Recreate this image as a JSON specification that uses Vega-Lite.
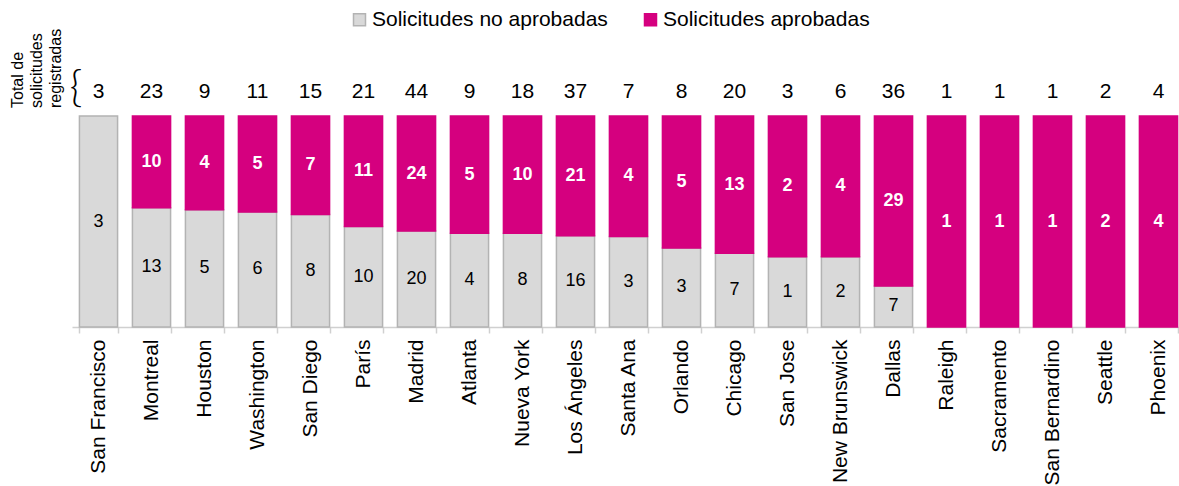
{
  "$schema": "https://vega.github.io/schema/vega-lite/v6.json",
  "width": 1107,
  "height": 211,
  "autosize": {"type": "none"},
  "padding": {"left": 72, "top": 116, "right": 0, "bottom": 159},
  "config": {
    "view": {"stroke": null},
    "font": "Liberation Sans",
    "text": {"font": "Liberation Sans"}
  },
  "data": {
    "values": [
      {"ciudad": "San Francisco", "estado": "Solicitudes no aprobadas", "n": 3},
      {"ciudad": "Montreal", "estado": "Solicitudes no aprobadas", "n": 13},
      {"ciudad": "Montreal", "estado": "Solicitudes aprobadas", "n": 10},
      {"ciudad": "Houston", "estado": "Solicitudes no aprobadas", "n": 5},
      {"ciudad": "Houston", "estado": "Solicitudes aprobadas", "n": 4},
      {"ciudad": "Washington", "estado": "Solicitudes no aprobadas", "n": 6},
      {"ciudad": "Washington", "estado": "Solicitudes aprobadas", "n": 5},
      {"ciudad": "San Diego", "estado": "Solicitudes no aprobadas", "n": 8},
      {"ciudad": "San Diego", "estado": "Solicitudes aprobadas", "n": 7},
      {"ciudad": "París", "estado": "Solicitudes no aprobadas", "n": 10},
      {"ciudad": "París", "estado": "Solicitudes aprobadas", "n": 11},
      {"ciudad": "Madrid", "estado": "Solicitudes no aprobadas", "n": 20},
      {"ciudad": "Madrid", "estado": "Solicitudes aprobadas", "n": 24},
      {"ciudad": "Atlanta", "estado": "Solicitudes no aprobadas", "n": 4},
      {"ciudad": "Atlanta", "estado": "Solicitudes aprobadas", "n": 5},
      {"ciudad": "Nueva York", "estado": "Solicitudes no aprobadas", "n": 8},
      {"ciudad": "Nueva York", "estado": "Solicitudes aprobadas", "n": 10},
      {"ciudad": "Los Ángeles", "estado": "Solicitudes no aprobadas", "n": 16},
      {"ciudad": "Los Ángeles", "estado": "Solicitudes aprobadas", "n": 21},
      {"ciudad": "Santa Ana", "estado": "Solicitudes no aprobadas", "n": 3},
      {"ciudad": "Santa Ana", "estado": "Solicitudes aprobadas", "n": 4},
      {"ciudad": "Orlando", "estado": "Solicitudes no aprobadas", "n": 3},
      {"ciudad": "Orlando", "estado": "Solicitudes aprobadas", "n": 5},
      {"ciudad": "Chicago", "estado": "Solicitudes no aprobadas", "n": 7},
      {"ciudad": "Chicago", "estado": "Solicitudes aprobadas", "n": 13},
      {"ciudad": "San Jose", "estado": "Solicitudes no aprobadas", "n": 1},
      {"ciudad": "San Jose", "estado": "Solicitudes aprobadas", "n": 2},
      {"ciudad": "New Brunswick", "estado": "Solicitudes no aprobadas", "n": 2},
      {"ciudad": "New Brunswick", "estado": "Solicitudes aprobadas", "n": 4},
      {"ciudad": "Dallas", "estado": "Solicitudes no aprobadas", "n": 7},
      {"ciudad": "Dallas", "estado": "Solicitudes aprobadas", "n": 29},
      {"ciudad": "Raleigh", "estado": "Solicitudes aprobadas", "n": 1},
      {"ciudad": "Sacramento", "estado": "Solicitudes aprobadas", "n": 1},
      {"ciudad": "San Bernardino", "estado": "Solicitudes aprobadas", "n": 1},
      {"ciudad": "Seattle", "estado": "Solicitudes aprobadas", "n": 2},
      {"ciudad": "Phoenix", "estado": "Solicitudes aprobadas", "n": 4}
    ]
  },
  "encoding": {
    "x": {
      "field": "ciudad",
      "type": "nominal",
      "scale": {
        "domain": ["San Francisco", "Montreal", "Houston", "Washington", "San Diego", "París", "Madrid", "Atlanta", "Nueva York", "Los Ángeles", "Santa Ana", "Orlando", "Chicago", "San Jose", "New Brunswick", "Dallas", "Raleigh", "Sacramento", "San Bernardino", "Seattle", "Phoenix"],
        "range": [0, 1113],
        "paddingInner": 0.28,
        "paddingOuter": 0.14
      },
      "axis": {
        "title": null,
        "labelAngle": -90,
        "labelFont": "Liberation Sans",
        "labelFontSize": 21,
        "labelColor": "#000000",
        "labelPadding": 6,
        "labelLimit": 0,
        "domainColor": "#d0d0d0",
        "domainWidth": 1.5,
        "tickColor": "#d0d0d0",
        "tickWidth": 1.5,
        "tickSize": 6,
        "tickBand": "extent"
      }
    }
  },
  "layer": [
    {
      "transform": [
        {"stack": "n", "groupby": ["ciudad"], "sort": [{"field": "estado", "order": "descending"}], "offset": "normalize", "as": ["y0", "y1"]}
      ],
      "mark": {"type": "bar", "strokeWidth": 1.5},
      "encoding": {
        "y": {"field": "y0", "type": "quantitative", "scale": {"domain": [0, 1]}, "axis": null},
        "y2": {"field": "y1"},
        "color": {
          "field": "estado",
          "type": "nominal",
          "scale": {"domain": ["Solicitudes no aprobadas", "Solicitudes aprobadas"], "range": ["#d9d9d9", "#d5007f"]},
          "legend": {
            "title": null,
            "orient": "none",
            "direction": "horizontal",
            "legendX": 277,
            "legendY": -107,
            "labelFont": "Liberation Sans",
            "labelFontSize": 21,
            "labelColor": "#000000",
            "labelLimit": 0,
            "symbolType": "square",
            "symbolSize": 144,
            "symbolOpacity": 1,
            "labelOffset": 2,
            "columnPadding": 32
          }
        },
        "stroke": {
          "field": "estado",
          "type": "nominal",
          "scale": {"domain": ["Solicitudes no aprobadas", "Solicitudes aprobadas"], "range": ["#b3b3b3", "#d5007f"]},
          "legend": null
        }
      }
    },
    {
      "transform": [
        {"stack": "n", "groupby": ["ciudad"], "sort": [{"field": "estado", "order": "descending"}], "offset": "normalize", "as": ["y0", "y1"]},
        {"calculate": "(datum.y0 + datum.y1) / 2", "as": "mid"},
        {"filter": "datum.estado == 'Solicitudes aprobadas'"}
      ],
      "mark": {"type": "text", "fontSize": 18, "fontWeight": "bold", "color": "#ffffff", "baseline": "middle"},
      "encoding": {
        "y": {"field": "mid", "type": "quantitative"},
        "text": {"field": "n", "type": "quantitative"}
      }
    },
    {
      "transform": [
        {"stack": "n", "groupby": ["ciudad"], "sort": [{"field": "estado", "order": "descending"}], "offset": "normalize", "as": ["y0", "y1"]},
        {"calculate": "(datum.y0 + datum.y1) / 2", "as": "mid"},
        {"filter": "datum.estado == 'Solicitudes no aprobadas'"}
      ],
      "mark": {"type": "text", "fontSize": 18, "color": "#000000", "baseline": "middle"},
      "encoding": {
        "y": {"field": "mid", "type": "quantitative"},
        "text": {"field": "n", "type": "quantitative"}
      }
    },
    {
      "transform": [
        {"aggregate": [{"op": "sum", "field": "n", "as": "total"}], "groupby": ["ciudad"]}
      ],
      "mark": {"type": "text", "fontSize": 21, "color": "#000000", "baseline": "middle", "dy": -24},
      "encoding": {
        "y": {"datum": 1},
        "text": {"field": "total", "type": "quantitative"}
      }
    },
    {
      "data": {"values": [{}]},
      "mark": {"type": "text", "text": ["Total de", "solicitudes", "registradas"], "angle": 270, "align": "left", "baseline": "top", "fontSize": 16, "lineHeight": 19, "dx": 8, "dy": -89, "color": "#000000"},
      "encoding": {
        "x": {"datum": "San Francisco"},
        "y": {"datum": 1}
      }
    },
    {
      "data": {"values": [{}]},
      "mark": {"type": "text", "text": "{", "align": "center", "baseline": "middle", "fontSize": 44, "font": "Lato", "fontWeight": 300, "dx": -22.5, "dy": -27, "color": "#000000"},
      "encoding": {
        "x": {"datum": "San Francisco"},
        "y": {"datum": 1}
      }
    }
  ]
}
